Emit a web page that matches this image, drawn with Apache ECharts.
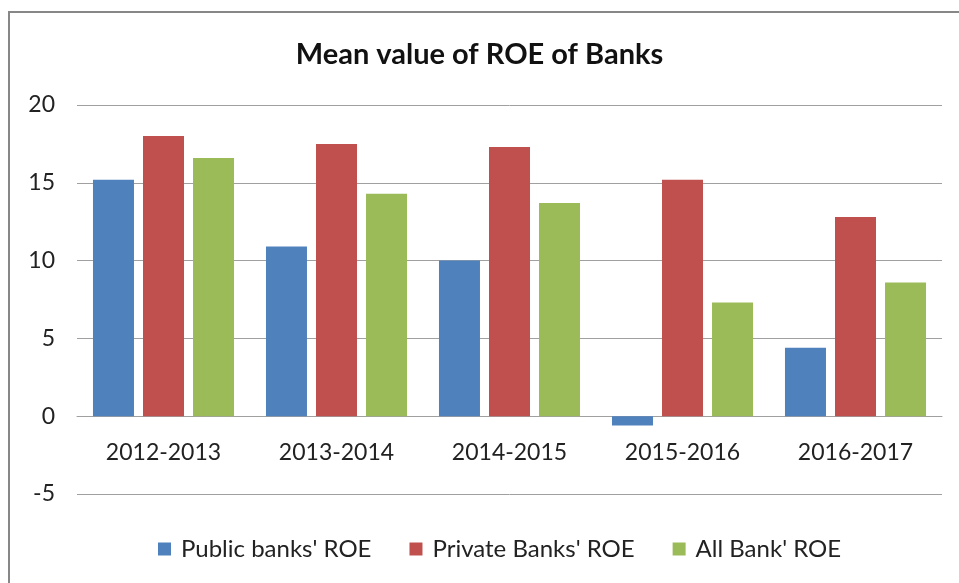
<!DOCTYPE html>
<html>
<head>
<meta charset="utf-8">
<script src="https://cdn.jsdelivr.net/npm/echarts@6/dist/echarts.min.js"></script>
<style>
html,body{margin:0;padding:0;background:#fff;}
#chart{width:959px;height:583px;}
</style>
</head>
<body>
<div id="chart"></div>
<script>
const titleText = "Mean value of ROE of Banks";
const categories = ["2012-2013", "2013-2014", "2014-2015", "2015-2016", "2016-2017"];
const seriesNames = ["Public banks' ROE", "Private Banks' ROE", "All Bank' ROE"];
const publicROE = [15.2, 10.9, 10.0, -0.6, 4.4];
const privateROE = [18.0, 17.5, 17.3, 15.2, 12.8];
const allROE = [16.6, 14.3, 13.7, 7.3, 8.6];
const colors = ["#4F81BD", "#C0504D", "#9BBB59"];

const FONT = "Lato, 'Open Sans', sans-serif";
const chart = echarts.init(document.getElementById('chart'), null, {renderer: 'canvas'});
const values = [publicROE, privateROE, allROE];

chart.setOption({
  animation: false,
  backgroundColor: '#fff',
  color: colors,
  graphic: [{
    type: 'rect',
    shape: {x: 9, y: 12, width: 1000, height: 1000},
    style: {fill: 'none', stroke: '#878787', lineWidth: 2},
    silent: true,
    z: 100
  }],
  title: {
    text: titleText,
    left: 'center',
    top: 35,
    textStyle: {fontFamily: FONT, fontWeight: 'bold', fontSize: 29, color: '#111'}
  },
  legend: {
    data: seriesNames,
    bottom: 17,
    left: 153,
    icon: 'rect',
    itemWidth: 13,
    itemHeight: 13,
    itemGap: 38,
    textStyle: {fontFamily: FONT, fontSize: 24, color: '#222', padding: [0, 0, 0, 5]}
  },
  grid: {left: 77, right: 17, top: 105, bottom: 89, containLabel: false},
  xAxis: {
    type: 'category',
    data: categories,
    offset: -78,
    axisLine: {show: true, onZero: false, lineStyle: {color: '#A0A0A0', width: 1}},
    axisTick: {show: false},
    axisLabel: {fontFamily: FONT, fontSize: 23, color: '#222', margin: 25}
  },
  yAxis: {
    type: 'value',
    min: -5,
    max: 20,
    interval: 5,
    axisLine: {show: false},
    axisTick: {show: false},
    splitLine: {lineStyle: {color: '#A0A0A0', width: 1}},
    axisLabel: {fontFamily: FONT, fontSize: 23, color: '#222', margin: 22}
  },
  series: seriesNames.map((n, i) => ({
    name: n,
    type: 'bar',
    data: values[i],
    barWidth: 41,
    barGap: '22%',
    itemStyle: {color: colors[i]}
  }))
});
</script>
</body>
</html>
